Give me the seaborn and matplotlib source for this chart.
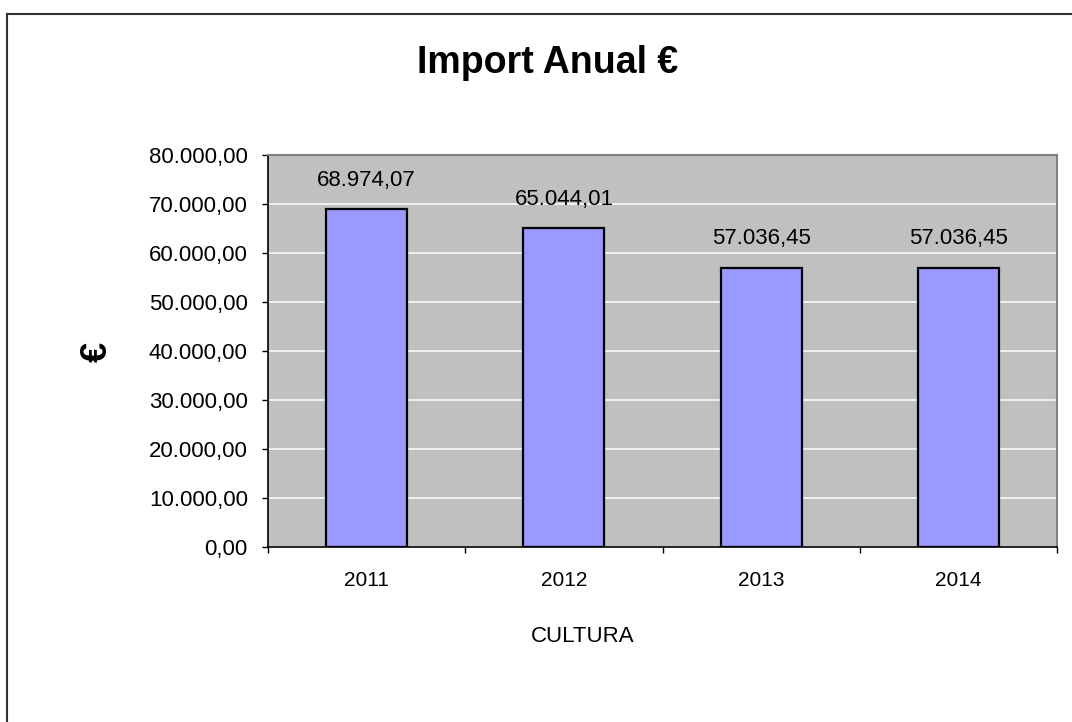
import numpy as np
import pandas as pd
import matplotlib
matplotlib.use("Agg")
import matplotlib.pyplot as plt
import seaborn as sns
from matplotlib.ticker import FuncFormatter, MultipleLocator, FixedLocator
from matplotlib.patches import Rectangle

years = ["2011", "2012", "2013", "2014"]
imports = [68974.07, 65044.01, 57036.45, 57036.45]


def euro_fmt(v, pos=None):
    s = f"{v:,.2f}"
    return s.replace(",", "X").replace(".", ",").replace("X", ".")


sns.set_theme(style="white")
plt.rcParams["font.family"] = ["Liberation Sans", "DejaVu Sans"]
plt.rcParams["text.color"] = "black"
plt.rcParams["xtick.color"] = "black"
plt.rcParams["ytick.color"] = "black"

df = pd.DataFrame({"year": years, "value": imports})

fig = plt.figure(figsize=(10.72, 7.22), dpi=100)
ax = fig.add_axes([268 / 1072, 1 - 547 / 722, (1057 - 268) / 1072, 392 / 722])
ax.set_facecolor("#C0C0C0")

sns.barplot(data=df, x="year", y="value", color="#9999FF", saturation=1,
            edgecolor="black", linewidth=1.6, width=0.41, ax=ax, zorder=3)

ax.set_xlim(-0.5, 3.5)
ax.set_ylim(0, 80000)
ax.yaxis.set_major_locator(MultipleLocator(10000))
ax.yaxis.set_major_formatter(FuncFormatter(euro_fmt))
ax.grid(axis="y", color="white", linewidth=1.1, zorder=1)
ax.grid(axis="x", visible=False)
ax.set_axisbelow(True)

ax.tick_params(axis="y", direction="out", length=4.5, width=1, pad=10, labelsize=16, left=True)
ax.tick_params(axis="x", which="major", length=0, pad=17, labelsize=15)
ax.xaxis.set_minor_locator(FixedLocator([-0.5, 0.5, 1.5, 2.5, 3.5]))
ax.tick_params(axis="x", which="minor", direction="out", length=4.5, width=1, bottom=True)

ax.spines["left"].set_color("black")
ax.spines["bottom"].set_color("black")
ax.spines["left"].set_linewidth(1.2)
ax.spines["bottom"].set_linewidth(1.2)
for s in ["top", "right"]:
    ax.spines[s].set_color("#808080")
    ax.spines[s].set_linewidth(1.5)

ax.set_xlabel("")
ax.set_ylabel("")

ax.bar_label(ax.containers[0], labels=[euro_fmt(v) for v in imports],
             padding=13, fontsize=16, color="black")

fig.text(548 / 1072, 1 - 72.7 / 722, "Import Anual €", ha="center", va="baseline",
         fontsize=27, fontweight="bold")
fig.text(582.5 / 1072, 1 - 641.7 / 722, "CULTURA", ha="center", va="baseline", fontsize=16)
fig.text(97 / 1072, 1 - 352 / 722, "€", ha="center", va="center", rotation=90,
         fontsize=26, fontweight="bold")

fig.patches.append(Rectangle((7 / 1072, -0.1), 1.2, 1 - 13.5 / 722 + 0.1,
                             transform=fig.transFigure, fill=False,
                             edgecolor="#333333", linewidth=1.5))

fig.savefig("out.png", dpi=100)
